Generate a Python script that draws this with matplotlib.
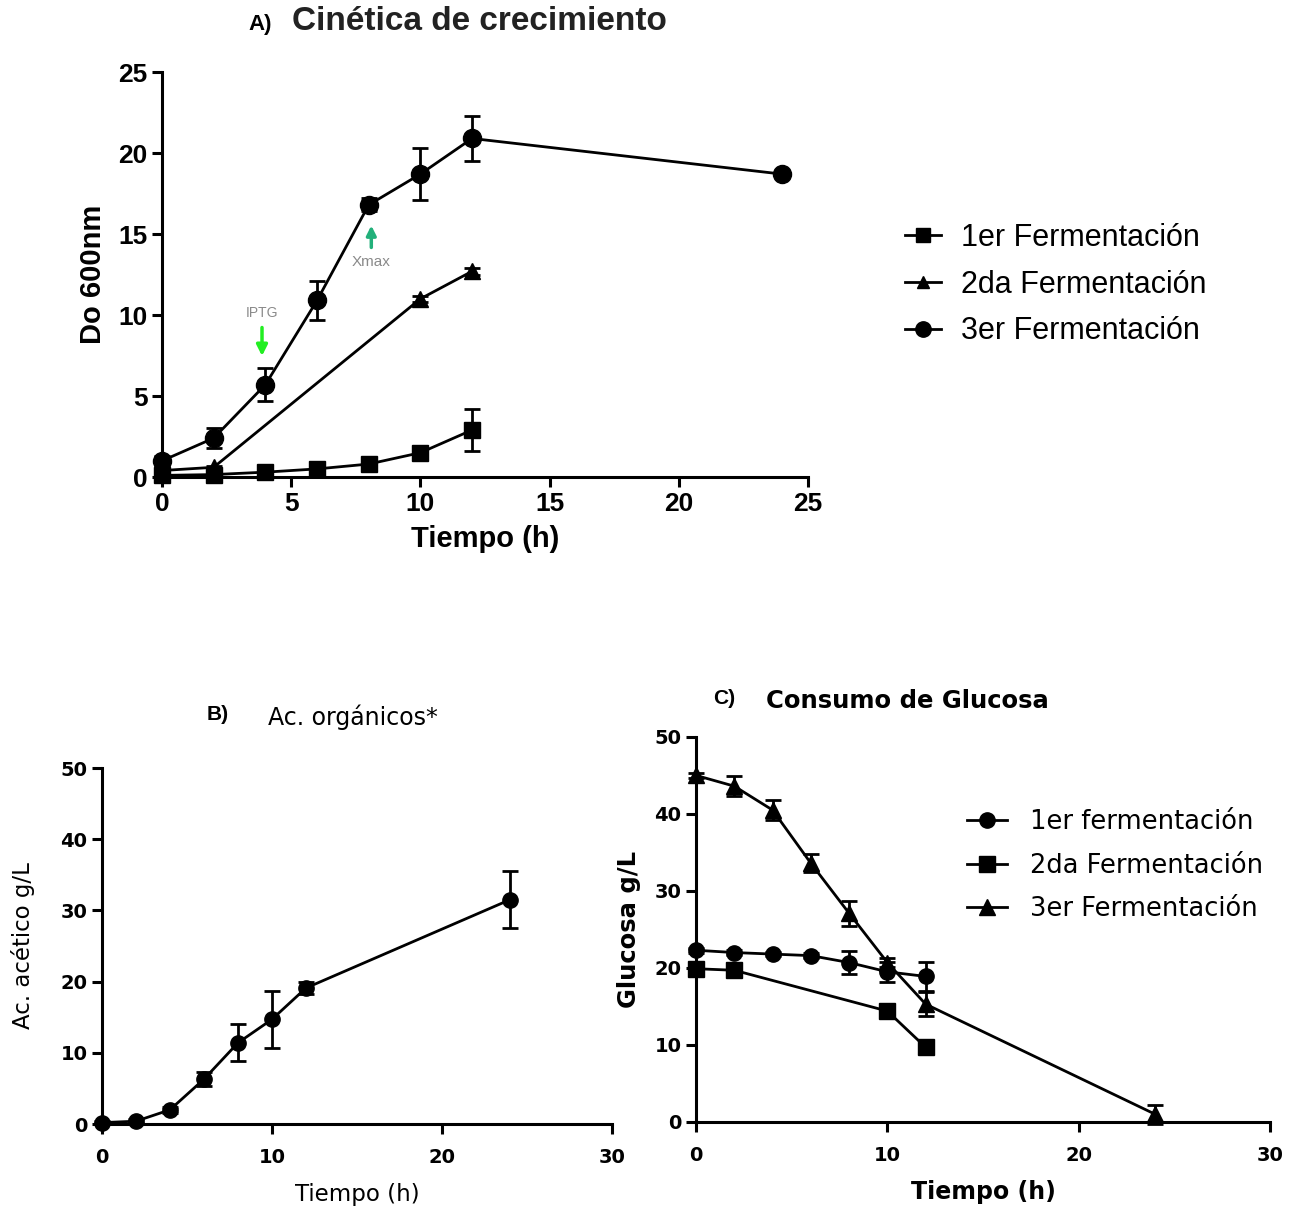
import numpy as np
import matplotlib
matplotlib.use("Agg")
import matplotlib.pyplot as plt

# ---- datos panel A (Do 600nm) ----
tA_1 = [0, 2, 4, 6, 8, 10, 12]
doA_1 = [0.1, 0.15, 0.3, 0.5, 0.8, 1.5, 2.9]
errA_1 = [0.1, 0.1, 0.15, 0.15, 0.2, 0.3, 1.3]

tA_2 = [0, 2, 10, 12]
doA_2 = [0.4, 0.6, 11.0, 12.7]
errA_2 = [0.1, 0.1, 0.2, 0.2]

tA_3 = [0, 2, 4, 6, 8, 10, 12, 24]
doA_3 = [1.0, 2.4, 5.7, 10.9, 16.8, 18.7, 20.9, 18.7]
errA_3 = [0.3, 0.6, 1.0, 1.2, 0.4, 1.6, 1.4, 0.0]

# ---- datos panel B (acido acetico) ----
tB = [0, 2, 4, 6, 8, 10, 12, 24]
acB = [0.2, 0.4, 2.0, 6.3, 11.4, 14.7, 19.1, 31.5]
errB = [0.2, 0.3, 0.4, 1.0, 2.6, 4.0, 0.8, 4.0]

# ---- datos panel C (glucosa) ----
tC_1 = [0, 2, 4, 6, 8, 10, 12]
gC_1 = [22.3, 22.0, 21.8, 21.6, 20.7, 19.5, 18.9]
errC_1 = [0.3, 0.3, 0.3, 0.3, 1.5, 1.3, 1.9]

tC_2 = [0, 2, 10, 12]
gC_2 = [19.9, 19.7, 14.4, 9.7]
errC_2 = [0.3, 0.3, 0.4, 0.4]

tC_3 = [0, 2, 4, 6, 8, 10, 12, 24]
gC_3 = [45.0, 43.6, 40.5, 33.6, 27.1, 20.7, 15.3, 1.0]
errC_3 = [0.3, 1.3, 1.3, 1.2, 1.6, 0.6, 1.6, 1.2]

SANS = "Liberation Sans"
WIDE = "DejaVu Sans"

fig = plt.figure(figsize=(12.94, 12.11), dpi=100)


def estilo(ax, fs, fam, weight, xpad=4):
    for s in ["top", "right"]:
        ax.spines[s].set_visible(False)
    for s in ["left", "bottom"]:
        ax.spines[s].set_linewidth(2.2)
    ax.tick_params(width=2.2, length=7, direction="out", labelsize=fs)
    ax.tick_params(axis="x", pad=xpad)
    for lab in ax.get_xticklabels() + ax.get_yticklabels():
        lab.set_fontfamily(fam)
        lab.set_fontweight(weight)


def serie(ax, t, y, e, mk, ms, label):
    c = ax.errorbar(t, y, yerr=e, fmt="-" + mk, color="black", lw=2, ms=ms,
                    elinewidth=2, capsize=5.5, capthick=2, label=label, clip_on=False, zorder=3)
    return c[0]  # linea con marcadores, para la leyenda


# ===== Panel A =====
axA = fig.add_axes([0.1252, 0.6061, 0.4992, 0.3344])
lA1 = serie(axA, tA_1, doA_1, errA_1, "s", 12, "1er Fermentación")
lA2 = serie(axA, tA_2, doA_2, errA_2, "^", 11, "2da Fermentación")
lA3 = serie(axA, tA_3, doA_3, errA_3, "o", 13, "3er Fermentación")
axA.set_xlim(0, 25)
axA.set_ylim(0, 25)
axA.set_xticks(range(0, 26, 5))
axA.set_yticks(range(0, 26, 5))
estilo(axA, 19, SANS, "bold")
axA.set_xlabel("Tiempo (h)", fontsize=21, fontweight="bold", family=SANS, labelpad=6)
axA.set_ylabel("Do 600nm", fontsize=21, fontweight="bold", family=SANS, labelpad=8)
fig.text(0.192, 0.980, "A)", fontsize=16, fontweight="bold", family=SANS, va="center")
fig.text(0.226, 0.982, "Cinética de crecimiento", fontsize=24, fontweight="bold",
         family=SANS, va="center", color="#222222")

axA.annotate("", xy=(3.87, 7.3), xytext=(3.87, 9.4),
             arrowprops=dict(arrowstyle="-|>", color="#22ee22", lw=2.5, mutation_scale=16))
axA.text(3.87, 10.1, "IPTG", fontsize=10, color="#8a8a8a", ha="center", va="center", family=SANS)
axA.annotate("", xy=(8.1, 15.7), xytext=(8.1, 14.0),
             arrowprops=dict(arrowstyle="-|>", color="#22b07a", lw=2.5, mutation_scale=14))
axA.text(8.1, 13.3, "Xmax", fontsize=11, color="#8a8a8a", ha="center", va="center", family=SANS)

fig.legend([lA1, lA2, lA3], ["1er Fermentación", "2da Fermentación", "3er Fermentación"],
           loc="center left", bbox_to_anchor=(0.699, 0.765), borderpad=0, borderaxespad=0,
           bbox_transform=fig.transFigure, frameon=False, prop={"family": SANS, "size": 22},
           handlelength=1.2, handletextpad=0.65, labelspacing=0.55, markerscale=0.85)

# ===== Panel B =====
axB = fig.add_axes([0.0788, 0.0718, 0.394, 0.294])
serie(axB, tB, acB, errB, "o", 11, None)
axB.set_xlim(0, 30)
axB.set_ylim(0, 50)
axB.set_xticks(range(0, 31, 10))
axB.set_yticks(range(0, 51, 10))
estilo(axB, 14, WIDE, "bold", xpad=10)
axB.set_xlabel("Tiempo (h)", fontsize=16.5, family=WIDE, labelpad=12)
axB.set_ylabel("Ac. acético g/L", fontsize=16.5, family=WIDE, labelpad=18)
fig.text(0.160, 0.410, "B)", fontsize=15, fontweight="bold", family=SANS, va="center")
fig.text(0.207, 0.408, "Ac. orgánicos*", fontsize=17, family=WIDE, va="center")

# ===== Panel C =====
axC = fig.add_axes([0.5379, 0.0735, 0.4436, 0.318])
lC1 = serie(axC, tC_1, gC_1, errC_1, "o", 11, "1er fermentación")
lC2 = serie(axC, tC_2, gC_2, errC_2, "s", 11, "2da Fermentación")
lC3 = serie(axC, tC_3, gC_3, errC_3, "^", 11, "3er Fermentación")
axC.set_xlim(0, 30)
axC.set_ylim(0, 50)
axC.set_xticks(range(0, 31, 10))
axC.set_yticks(range(0, 51, 10))
estilo(axC, 14, WIDE, "bold", xpad=10)
axC.set_xlabel("Tiempo (h)", fontsize=17, fontweight="bold", family=WIDE, labelpad=11)
axC.set_ylabel("Glucosa g/L", fontsize=17.5, fontweight="bold", family=WIDE, labelpad=10)
fig.text(0.551, 0.423, "C)", fontsize=15, fontweight="bold", family=SANS, va="center")
fig.text(0.592, 0.421, "Consumo de Glucosa", fontsize=17.5, fontweight="bold", family=WIDE, va="center")

fig.legend([lC1, lC2, lC3], ["1er fermentación", "2da Fermentación", "3er Fermentación"],
           loc="center left", bbox_to_anchor=(0.7473, 0.285), borderpad=0, borderaxespad=0,
           bbox_transform=fig.transFigure, frameon=False, prop={"family": WIDE, "size": 18.5},
           handlelength=1.56, handletextpad=0.9, labelspacing=0.68)

fig.savefig("out.png", dpi=100)
